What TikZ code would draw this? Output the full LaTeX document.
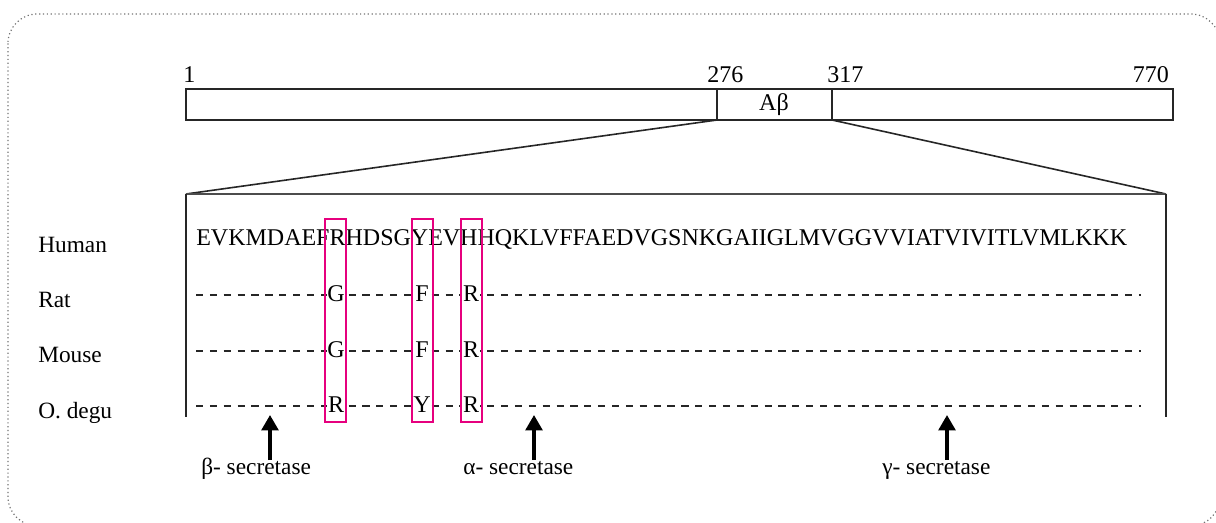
\documentclass[tikz,border=0pt]{standalone}
\usepackage{fontspec}
\setmainfont{Liberation Serif}
\usetikzlibrary{arrows.meta}
\definecolor{boxpink}{RGB}{230,0,126}
\begin{document}
\begin{tikzpicture}[x=0.75pt,y=-0.75pt,
  seqfont/.style={font=\fontsize{18}{20}\selectfont},
  lblfont/.style={font=\fontsize{17.5}{20}\selectfont},
  numlbl/.style={seqfont, inner sep=0pt, anchor=base west},
  species/.style={lblfont, inner sep=0pt, anchor=base west},
  subst/.style={seqfont, fill=white, inner sep=0.6pt},
  dashrow/.style={line width=1.35pt, dash pattern=on 5.4pt off 5pt, black!85},
  hlbox/.style={draw=boxpink, line width=2.1pt},
  barline/.style={line width=1.2pt, black!85},
  zoomline/.style={line width=1.2pt, black!85},
  cutarrow/.style={line width=2.6pt, -{Triangle[width=12.5pt,length=11.5pt]}},
  enzyme/.style={lblfont, inner sep=0pt, anchor=base west}]
\useasboundingbox (0,0) rectangle (1216,523);
% outer dotted frame
\draw[black!55, dotted, line width=0.9pt, rounded corners=22pt] (8,14) rectangle (1220,526);

% APP bar
\draw[barline] (186,89) rectangle (1173,120);
\coordinate (d1t) at (717,89);
\coordinate (d1b) at (717,120);
\coordinate (d2t) at (832,89);
\coordinate (d2b) at (832,120);
\draw[barline] (d1t) -- (d1b);
\draw[barline] (d2t) -- (d2b);
\node[seqfont] (abeta) at (774,105) {Aβ};
\node[numlbl] (n1) at (183,83) {1};
\node[numlbl] (n276) at (707,83) {276};
\node[numlbl] (n317) at (827,83) {317};
\node[numlbl, anchor=base east] (n770) at (1169,83) {770};

% expansion bracket
\coordinate (bl) at (186,194);
\coordinate (br) at (1166,194);
\coordinate (bll) at (186,417);
\coordinate (brl) at (1166,417);
\draw[zoomline] (d1b) -- (bl);
\draw[zoomline] (d2b) -- (br);
\draw[line width=0.8pt, black!70] (bl) -- (br);
\draw[zoomline] (bl) -- (bll);
\draw[zoomline] (br) -- (brl);

% species labels
\node[species] (human) at (38,253) {Human};
\node[species] (rat) at (38,308) {Rat};
\node[species] (mouse) at (38,363) {Mouse};
\node[species] (degu) at (38,418) {O. degu};

% human sequence
\node[seqfont, inner sep=0pt, anchor=base west] (seq) at (196,246) {EVKMDAEFRHDSGYEVHHQKLVFFAEDVGSNKGAIIGLMVGGVVIATVIVITLVMLKKK};

% dashed rows
\coordinate (r1a) at (196,295); \coordinate (r1b) at (1141,295);
\coordinate (r2a) at (196,351); \coordinate (r2b) at (1141,351);
\coordinate (r3a) at (196,406); \coordinate (r3b) at (1141,406);
\draw[dashrow] (r1a) -- (r1b);
\draw[dashrow] (r2a) -- (r2b);
\draw[dashrow] (r3a) -- (r3b);

% substitutions
\node[subst] (g1) at (336,294) {G};
\node[subst] (f1) at (422,294) {F};
\node[subst] (h1) at (471,294) {R};
\node[subst] (g2) at (336,350) {G};
\node[subst] (f2) at (422,350) {F};
\node[subst] (h2) at (471,350) {R};
\node[subst] (g3) at (336,405) {R};
\node[subst] (f3) at (422,405) {Y};
\node[subst] (h3) at (471,405) {R};

% highlight boxes
\draw[hlbox] (325,219) rectangle (346,422);
\draw[hlbox] (412,219) rectangle (433,422);
\draw[hlbox] (461,219) rectangle (482,422);

% cleavage arrows
\coordinate (bt) at (270,460); \coordinate (bh) at (270,415);
\coordinate (at) at (534,460); \coordinate (ah) at (534,415);
\coordinate (gt) at (947,460); \coordinate (gh) at (947,415);
\draw[cutarrow] (bt) -- (bh);
\draw[cutarrow] (at) -- (ah);
\draw[cutarrow] (gt) -- (gh);
\node[enzyme] (beta) at (201,474) {β- secretase};
\node[enzyme] (alpha) at (463,474) {α- secretase};
\node[enzyme] (gamma) at (882,474) {γ- secretase};
\end{tikzpicture}
\end{document}
